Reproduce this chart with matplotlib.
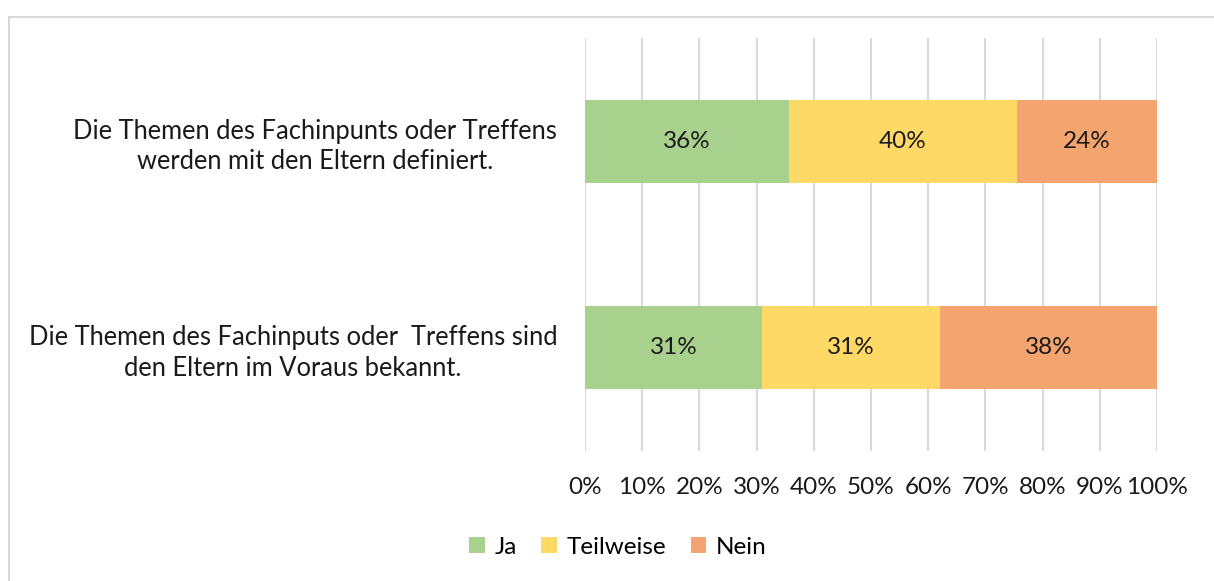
import matplotlib
matplotlib.use("Agg")
import matplotlib.pyplot as plt
from matplotlib.patches import Rectangle, Patch

categories = [
    "Die Themen des Fachinpunts oder Treffens\nwerden mit den Eltern definiert.",
    "Die Themen des Fachinputs oder  Treffens sind\nden Eltern im Voraus bekannt.",
]
series_names = ["Ja", "Teilweise", "Nein"]
ja = [35.6, 31.0]
teilweise = [40.0, 31.1]
nein = [24.4, 37.9]
colors = ["#A9D18E", "#FFD966", "#F4A46E"]
xticks = list(range(0, 101, 10))
xtick_labels = [f"{t}%" for t in xticks]

FONT = "Lato"
FS = 17.5
W, H = 1214, 581
fig = plt.figure(figsize=(W / 100, H / 100), dpi=100)
fig.patch.set_facecolor("white")

# chart frame
fig.add_artist(Rectangle((9 / W, -0.1), 1.2, 1 - 17 / H + 0.1, transform=fig.transFigure,
                         fill=False, edgecolor="#D9D9D9", linewidth=1.5))

ax = fig.add_axes([585 / W, 1 - 451 / H, (1157 - 585) / W, (451 - 38) / H])
ypos = list(range(len(categories)))
left = [0.0] * len(categories)
for name, vals, col in zip(series_names, [ja, teilweise, nein], colors):
    bars = ax.barh(ypos, vals, left=left, height=0.40, color=col, label=name, zorder=3)
    labels = [f"{v:.0f}%" for v in vals]
    ax.bar_label(bars, labels=labels, label_type="center", fontsize=FS,
                 family=FONT, color="#1a1a1a")
    left = [l + v for l, v in zip(left, vals)]

ax.set_xlim(0, 100)
ax.set_ylim(1.5, -0.5)
ax.set_xticks(xticks)
ax.set_xticklabels(xtick_labels, fontsize=FS, family=FONT, color="#1a1a1a")
ax.set_yticks(ypos)
ax.set_yticklabels(categories, fontsize=18.4, family=FONT, color="#1a1a1a",
                   multialignment="center", linespacing=1.28)
ax.tick_params(axis="x", length=0, pad=19)
ax.tick_params(axis="y", length=0, pad=20)
ax.grid(axis="x", color="#D9D9D9", linewidth=1.5, zorder=0)
ax.set_axisbelow(True)
for s in ax.spines.values():
    s.set_visible(False)

handles = [Patch(facecolor=c, edgecolor="none") for c in colors]
fig.legend(handles, series_names, loc="center", bbox_to_anchor=(618 / W, 1 - 547 / H),
           ncol=3, frameon=False, prop={"family": FONT, "size": FS},
           handlelength=0.65, handleheight=0.65, handletextpad=0.4, columnspacing=1.0)

fig.savefig("out.png", dpi=100, facecolor="white")
